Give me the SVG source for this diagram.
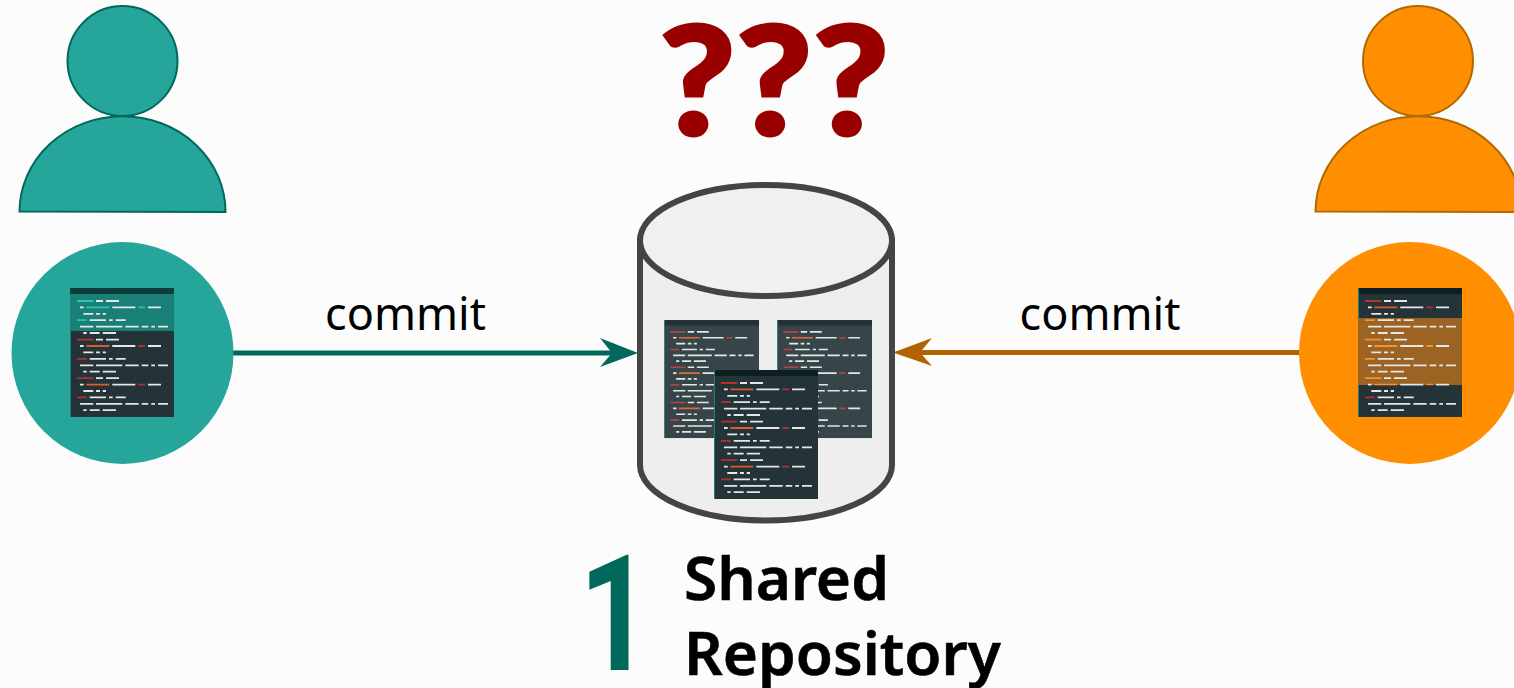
<svg xmlns="http://www.w3.org/2000/svg" xmlns:xlink="http://www.w3.org/1999/xlink" width="1514" height="688" viewBox="0 0 1514 688">
<style>
.w{fill:none;stroke:#e4e7e8;stroke-width:1.8}
.r{fill:none;stroke:var(--r,#b7302c);stroke-width:1.8}
.o{fill:none;stroke:var(--o,#e0592a);stroke-width:1.8}
.lbl{font-family:"Noto Sans","Open Sans",sans-serif;fill:#000}
.commit{font-size:45px}
.title{font-size:60.300px;font-weight:600;stroke:#000;stroke-width:.6}
</style>
<defs>
<pattern id="stripes" width="6" height="6" patternUnits="userSpaceOnUse" patternTransform="rotate(-45)"><rect width="6" height="3" fill="#fff" opacity="0.012"/></pattern>
<g id="lines">
<path class="w" d="M26 13h7M36 13h13M10 19.4h3.700M42.300 19.4h23M78 19.4h13M13.300 25.8h10M26 25.8h4M32.700 25.8h3.300M19.700 32.2h16.300M39 32.2h3.700M45.700 32.2h10M10 38.7h13.300M26 38.7h26.300M55.300 38.7h13.400M71.700 38.7h6.600M81.300 38.7h3.700M88 38.7h10M13.300 45h3.400M19.700 45h10M32.700 45h13.300"/>
<path class="w" transform="translate(0,38.6)" d="M26 13h7M36 13h13M10 19.4h3.700M42.300 19.4h23M78 19.4h13M13.300 25.8h10M26 25.8h4M32.700 25.8h3.300M19.700 32.2h16.300M39 32.2h3.700M45.700 32.2h10M10 38.7h13.300M26 38.7h26.300M55.300 38.7h13.400M71.700 38.7h6.600M81.300 38.7h3.700M88 38.7h10M13.300 45h3.400M19.700 45h10M32.700 45h13.300"/>
<path class="w" transform="translate(0,77.2)" d="M26 13h7M36 13h13M10 19.4h3.700M42.300 19.4h23M78 19.4h13M13.300 25.8h10M26 25.8h4M32.700 25.8h3.300M19.700 32.2h16.300M39 32.2h3.700M45.700 32.2h10M10 38.7h13.300M26 38.7h26.300M55.300 38.7h13.400M71.700 38.7h6.600M81.300 38.7h3.700M88 38.7h10M13.300 45h3.400M19.700 45h10M32.700 45h13.300"/>
<path class="r" d="M7 13h16.300M68.300 19.4h6.700M7 32.2h9.700M7 51.6h16.300M68.300 58h6.700M7 70.8h9.700M7 90.2h16.300M68.300 96.6h6.700M7 109.4h9.700"/>
<path class="o" d="M16.300 19.4h23M16.300 58h23M16.300 96.6h23"/>
</g>
<g id="code">
<rect width="104" height="129" fill="#223236"/>
<rect width="104" height="129" fill="url(#stripes)"/>
<rect width="104" height="6" fill="#0e1f22"/>
<rect width="1" height="129" fill="#1f7f78"/>
<use href="#lines"/>
</g>
<clipPath id="clipL"><rect x="0" y="0" width="104" height="43"/></clipPath>
<clipPath id="clipR"><rect x="0" y="30" width="104" height="67"/></clipPath>
</defs>
<rect width="1514" height="688" fill="#fcfcfc"/>
<g id="connectors">
<path d="M233 353H620" fill="none" stroke="#00695c" stroke-width="5"/>
<path d="M638 353L600 338L612 353L600 367Z" fill="#00695c"/>
<path d="M1300 352.500H910" fill="none" stroke="#b26200" stroke-width="5"/>
<path d="M893 352.500L932 338L920 352.500L932 366Z" fill="#b26200"/>
</g>
<g id="label-commit-left"><text class="lbl commit" x="405.500" y="330" text-anchor="middle">commit</text></g>
<g id="label-commit-right"><text class="lbl commit" x="1100" y="330" text-anchor="middle">commit</text></g>
<g id="person-left">
<path d="M19.500 211.500A103 95.500 0 0 1 225.500 212Z" fill="#26a69a" stroke="#00695c" stroke-width="2"/>
<circle cx="122.500" cy="61" r="55" fill="#26a69a" stroke="#00695c" stroke-width="2"/>
</g>
<g id="person-right">
<path d="M1315.500 211.500A103 95.500 0 0 1 1521.500 212Z" fill="#ff8f00" stroke="#b26a00" stroke-width="2"/>
<circle cx="1418" cy="61" r="55" fill="#ff8f00" stroke="#b26a00" stroke-width="2"/>
</g>
<g id="local-left">
<circle cx="122.500" cy="353" r="111" fill="#26a69a"/>
<g transform="translate(70,288)">
<use href="#code"/>
<g clip-path="url(#clipL)" style="--r:#26c6b6;--o:#26c6b6">
<rect width="104" height="43" fill="#1a7f76"/>
<rect width="104" height="6" fill="#0c3f3c"/>
<use href="#lines"/>
</g>
</g>
</g>
<g id="local-right">
<circle cx="1410" cy="353" r="111" fill="#ff8f00"/>
<g transform="translate(1358,288)">
<use href="#code"/>
<g clip-path="url(#clipR)" style="--r:#f0962a;--o:#f0962a">
<rect y="30" width="104" height="67" fill="#9c6323"/>
<use href="#lines"/>
</g>
</g>
</g>
<g id="repository">
<path d="M640 240.500V465A126 55.500 0 0 0 892 465V240.500Z" fill="#eeeeee" stroke="#444" stroke-width="6"/>
<ellipse cx="766" cy="240.500" rx="126" ry="55.500" fill="#f0f0f0" stroke="#444" stroke-width="6"/>
<use href="#code" transform="translate(664,320) scale(.9135,.915)" opacity="0.9"/>
<use href="#code" transform="translate(777,320) scale(.9135,.915)" opacity="0.9"/>
<use href="#code" transform="translate(714,370)"/>
</g>
<g id="question-marks"><text transform="translate(659,135) scale(1.1,1.01)" x="0" y="0" font-family="Lato,sans-serif" font-weight="900" font-size="150" fill="#990000" stroke="#990000" stroke-width="3">???</text></g>
<g id="title">
<text transform="translate(579,670) scale(.78,1)" x="0" y="0" font-family="Roboto,sans-serif" font-weight="700" font-size="162" fill="#00695c">1</text>
<text class="lbl title" x="684" y="600">Shared</text>
<text class="lbl title" x="684" y="675">Repository</text>
</g>
</svg>
